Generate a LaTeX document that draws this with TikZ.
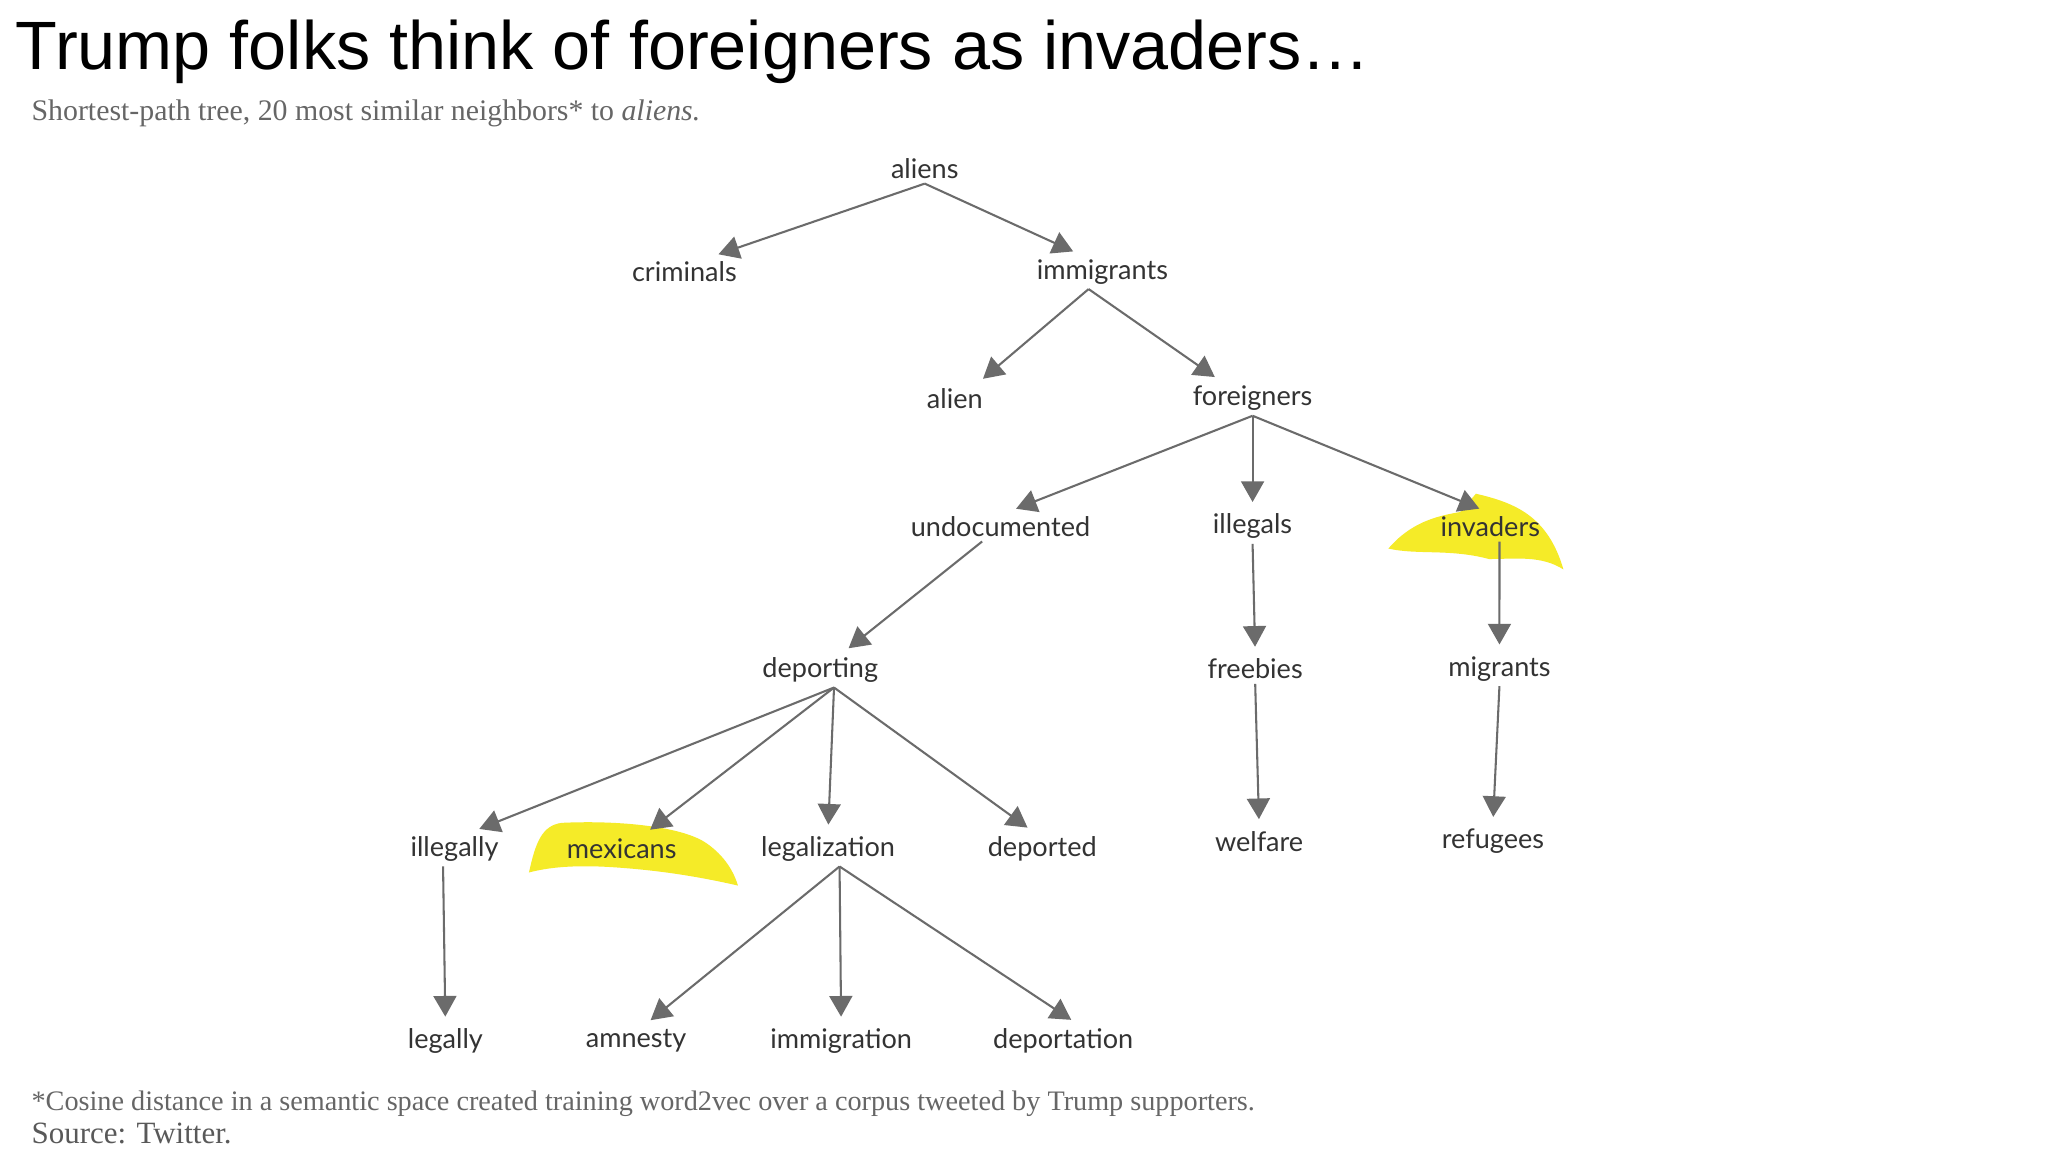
\documentclass[tikz,border=0pt]{standalone}
\usepackage{fontspec}
\setmainfont{Liberation Serif}
\newfontfamily\lato{Lato}
\newfontfamily\arial{Liberation Sans}
\usetikzlibrary{arrows.meta}
\definecolor{edgec}{gray}{0.42}
\definecolor{hl}{RGB}{245,235,40}
\tikzset{w/.style={font=\lato\fontsize{11.8}{14}\selectfont,text=black!80,inner sep=2pt},
 e/.style={draw=edgec,line width=0.9pt,-{Triangle[width=10pt,length=9pt]},shorten >=3pt}}
\begin{document}
\begin{tikzpicture}[x=0.02cm,y=-0.02cm]
\useasboundingbox (0,0) rectangle (1568,882);
\fill[white] (0,0) rectangle (1568,882);
% highlights
\fill[hl] (1063,420) .. controls (1080,400) and (1100,395) .. (1118,392) -- (1130,378) .. controls (1160,385) and (1185,395) .. (1197,436) .. controls (1180,425) and (1160,428) .. (1140,428) .. controls (1110,420) and (1085,425) .. (1063,420) -- cycle;
\fill[hl] (405,668) .. controls (410,645) and (415,632) .. (430,630) .. controls (470,628) and (520,632) .. (540,645) .. controls (555,655) and (562,668) .. (565,678) .. controls (530,670) and (500,666) .. (470,664) .. controls (440,662) and (420,664) .. (405,668) -- cycle;
\node[anchor=west,font=\arial\fontsize{29.8}{34}\selectfont] (title) at (6,40) {Trump folks think of foreigners as invaders…};
\node[anchor=west,font=\fontsize{13}{15}\selectfont,text=black!60] (sub) at (18,87) {Shortest-path tree, 20 most similar neighbors* to \textit{aliens.}};
\node[anchor=west,font=\fontsize{12.3}{14}\selectfont,text=black!60] (foot) at (18,845) {*Cosine distance in a semantic space created training word2vec over a corpus tweeted by Trump supporters.};
\node[anchor=west,font=\fontsize{13.5}{15}\selectfont,text=black!65] (src) at (18,868) {Source: Twitter.};
\node[w] (aliens) at (708,129) {aliens};
\node[w] (criminals) at (524,208) {criminals};
\node[w] (immigrants) at (844,208) {immigrants};
\node[w] (alien) at (731,305) {alien};
\node[w] (foreigners) at (959,305) {foreigners};
\node[w] (undoc) at (766,403) {undocumented};
\node[w] (illegals) at (959,403) {illegals};
\node[w] (invaders) at (1141,403) {invaders};
\node[w] (deporting) at (628,513) {deporting};
\node[w] (freebies) at (961,512) {freebies};
\node[w] (migrants) at (1148,512) {migrants};
\node[w] (illegally) at (348,650) {illegally};
\node[w] (mexicans) at (476,650) {mexicans};
\node[w] (legalization) at (634,650) {legalization};
\node[w] (deported) at (798,650) {deported};
\node[w] (welfare) at (964,644) {welfare};
\node[w] (refugees) at (1143,644) {refugees};
\node[w] (legally) at (341,797) {legally};
\node[w] (amnesty) at (487,797) {amnesty};
\node[w] (immigration) at (644,797) {immigration};
\node[w] (deportation) at (814,797) {deportation};
\draw[e] (aliens.south) -- ([xshift=12pt]criminals.north);
\draw[e] (aliens.south) -- ([xshift=-10pt]immigrants.north);
\draw[e] ([xshift=-6pt]immigrants.south) -- ([xshift=10pt]alien.north);
\draw[e] ([xshift=-6pt]immigrants.south) -- ([xshift=-14pt]foreigners.north);
\draw[e] (foreigners.south) -- ([xshift=4pt]undoc.north);
\draw[e] (foreigners.south) -- (illegals.north);
\draw[e] (foreigners.south) -- ([xshift=-2pt]invaders.north);
\draw[e] ([xshift=-8pt]undoc.south) -- ([xshift=10pt]deporting.north);
\draw[e] (illegals.south) -- (freebies.north);
\draw[e] ([xshift=4pt]invaders.south) -- (migrants.north);
\draw[e] ([xshift=6pt]deporting.south) -- ([xshift=8pt]illegally.north);
\draw[e] ([xshift=6pt]deporting.south) -- ([xshift=10pt]mexicans.north);
\draw[e] ([xshift=6pt]deporting.south) -- (legalization.north);
\draw[e] ([xshift=6pt]deporting.south) -- ([xshift=-4pt]deported.north);
\draw[e] (freebies.south) -- (welfare.north);
\draw[e] (migrants.south) -- (refugees.north);
\draw[e] ([xshift=-5pt]illegally.south) -- (legally.north);
\draw[e] ([xshift=5pt]legalization.south) -- ([xshift=4pt]amnesty.north);
\draw[e] ([xshift=5pt]legalization.south) -- (immigration.north);
\draw[e] ([xshift=5pt]legalization.south) -- ([xshift=6pt]deportation.north);
\end{tikzpicture}
\end{document}
